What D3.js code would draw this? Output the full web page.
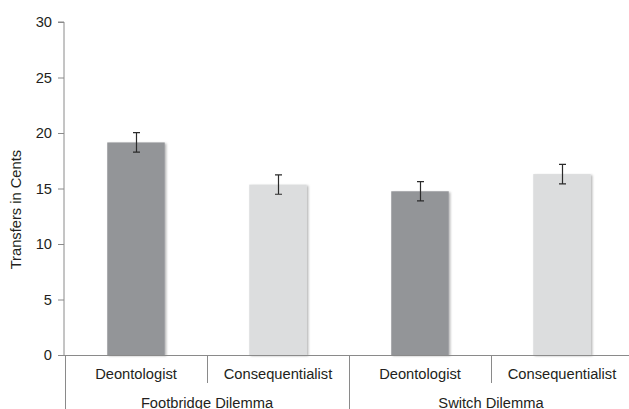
<!DOCTYPE html>
<html>
<head>
<meta charset="utf-8">
<script src="https://cdn.jsdelivr.net/npm/d3@7"></script>
<style>
  html, body { margin: 0; padding: 0; background: #fff; }
  svg { display: block; font-family: "Liberation Sans", Arial, Helvetica, sans-serif; }
</style>
</head>
<body>
<svg id="chart" width="629" height="409"></svg>
<script>
// Transfers (cents) by moral judgement type and dilemma
const groups = ["Footbridge Dilemma", "Switch Dilemma"];
const judgements = ["Deontologist", "Consequentialist"];
const means = [19.15, 15.35, 14.75, 16.3];
const stdErrors = [0.88, 0.87, 0.87, 0.88];
const yTicks = [0, 5, 10, 15, 20, 25, 30];

const rows = [];
groups.forEach((g, gi) => judgements.forEach((j, ji) => {
  const i = gi * judgements.length + ji;
  rows.push({ key: g + "|" + j, group: g, judgement: j, mean: means[i], se: stdErrors[i] });
}));

const W = 629, H = 409;
const FS = "14.7px";
const svg = d3.select("#chart");

const x = d3.scaleBand().domain(rows.map(d => d.key)).range([65, 633]).padding(0);
const y = d3.scaleLinear().domain([0, 30]).range([355, 22]);

const fill = { Deontologist: "#939598", Consequentialist: "#dcddde" };
const axisColor = "#8a8a8a";
const textColor = "#231f20";

// soft drop shadow under the bars
const defs = svg.append("defs");
const f = defs.append("filter").attr("id", "shadow")
  .attr("x", "-10%").attr("y", "-10%").attr("width", "130%").attr("height", "130%");
f.append("feDropShadow").attr("dx", 1.5).attr("dy", 1).attr("stdDeviation", 0.8)
  .attr("flood-color", "#000").attr("flood-opacity", 0.3);

// y axis
const yAxis = d3.axisLeft(y).tickValues(yTicks).tickSize(6).tickPadding(6);
const gy = svg.append("g").attr("transform", "translate(64,0)").call(yAxis);
gy.select(".domain").attr("stroke", axisColor).attr("d", `M-6,${y(30)}H0V${y(0)}`);
gy.selectAll(".tick line").attr("stroke", axisColor);
gy.selectAll(".tick text").attr("fill", textColor).style("font-size", FS)
  .attr("font-family", "Liberation Sans, Arial, sans-serif");

svg.append("text")
  .attr("transform", `translate(21,${y(13.1)}) rotate(-90)`)
  .attr("text-anchor", "middle")
  .attr("fill", textColor)
  .style("font-size", FS)
  .text("Transfers in Cents");

// bars
const barW = x.bandwidth() * 0.405;
svg.append("g").selectAll("rect").data(rows).join("rect")
  .attr("x", d => x(d.key) + (x.bandwidth() - barW) / 2)
  .attr("y", d => y(d.mean))
  .attr("width", barW)
  .attr("height", d => y(0) - y(d.mean))
  .attr("fill", d => fill[d.judgement])
  .attr("filter", "url(#shadow)");

// error bars
const cap = 3.5;
const eb = svg.append("g").attr("stroke", "#2b2b2b").attr("stroke-width", 1.2).attr("fill", "none");
rows.forEach(d => {
  const cx = Math.round(x(d.key) + x.bandwidth() / 2) + 0.5;
  const top = y(d.mean + d.se), bot = y(d.mean - d.se);
  eb.append("path").attr("d", `M${cx - cap},${top}H${cx + cap}M${cx},${top}V${bot}M${cx - cap},${bot}H${cx + cap}`);
});

// category axis: baseline, separators and two-level labels
const ax = svg.append("g").attr("stroke", axisColor).attr("stroke-width", 1);
ax.append("line").attr("x1", 64).attr("x2", W).attr("y1", y(0) + 0.5).attr("y2", y(0) + 0.5);
rows.forEach((d, i) => {
  const xl = Math.round(x(d.key)) + 0.5;
  const groupEdge = i % judgements.length === 0;
  ax.append("line").attr("x1", xl).attr("x2", xl)
    .attr("y1", y(0)).attr("y2", groupEdge ? H : 383);
});

svg.append("g").selectAll("text").data(rows).join("text")
  .attr("x", d => x(d.key) + x.bandwidth() / 2)
  .attr("y", 379)
  .attr("text-anchor", "middle")
  .attr("fill", textColor)
  .style("font-size", FS)
  .text(d => d.judgement);

svg.append("g").selectAll("text").data(groups).join("text")
  .attr("x", g => {
    const a = x(g + "|" + judgements[0]);
    const b = x(g + "|" + judgements[judgements.length - 1]) + x.bandwidth();
    return (a + b) / 2;
  })
  .attr("y", 408)
  .attr("text-anchor", "middle")
  .attr("fill", textColor)
  .style("font-size", FS)
  .text(g => g);
</script>
</body>
</html>
